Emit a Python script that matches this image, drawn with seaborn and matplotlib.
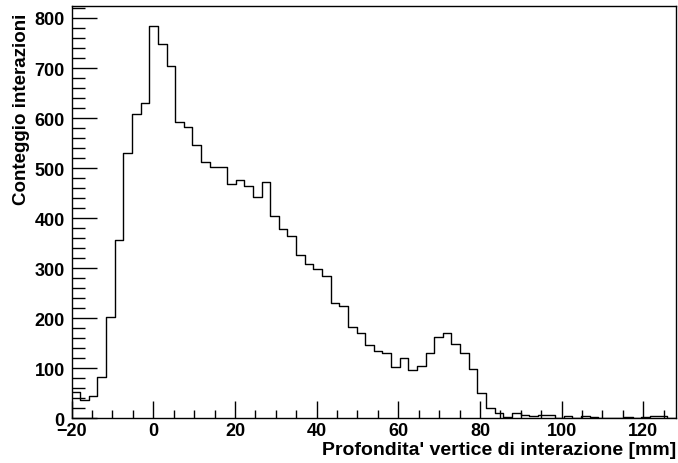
import numpy as np
import pandas as pd
import matplotlib
matplotlib.use("Agg")
import matplotlib.pyplot as plt
import seaborn as sns
from matplotlib.ticker import MultipleLocator

# Istogramma: 70 bin da -20 a 128 mm
x_min = -20
x_max = 128
n_bins = 70
conteggi = [53, 37, 44, 82, 202, 357, 531, 608, 631, 784,
            747, 704, 593, 582, 546, 513, 502, 503, 468, 477,
            464, 443, 472, 405, 378, 365, 327, 309, 299, 284,
            231, 225, 183, 171, 147, 135, 130, 102, 121, 96,
            105, 130, 163, 171, 148, 130, 98, 50, 20, 11,
            2, 10, 6, 4, 6, 6, 1, 4, 1, 5,
            3, 0, 1, 1, 2, 1, 2, 4, 4, 0]

bordi = np.linspace(x_min, x_max, n_bins + 1)
centri = 0.5 * (bordi[:-1] + bordi[1:])
df = pd.DataFrame({"profondita": centri, "conteggio": conteggi})

sns.set_style("ticks")
plt.rcParams['font.family'] = ['Liberation Sans', 'DejaVu Sans']
plt.rcParams['font.weight'] = 'bold'
plt.rcParams['text.color'] = 'black'
plt.rcParams['axes.labelcolor'] = 'black'
plt.rcParams['xtick.color'] = 'black'
plt.rcParams['ytick.color'] = 'black'

fig = plt.figure(figsize=(6.78, 4.64), dpi=100)
ax = fig.add_axes([0.1056, 0.0963, 0.8914, 0.8887])

sns.histplot(data=df, x="profondita", weights="conteggio", bins=n_bins,
             binrange=(x_min, x_max),
             element="step", fill=False, color="black", linewidth=1.0, ax=ax)

ax.set_xlim(x_min, x_max)
ax.set_ylim(0, 824)

ax.xaxis.set_major_locator(MultipleLocator(20))
ax.xaxis.set_minor_locator(MultipleLocator(5))
ax.yaxis.set_major_locator(MultipleLocator(100))
ax.yaxis.set_minor_locator(MultipleLocator(20))

ax.tick_params(axis='x', which='major', direction='in', length=12, width=1,
               labelsize=13, pad=3, top=False, colors='black')
ax.tick_params(axis='x', which='minor', direction='in', length=6, width=1, top=False,
               colors='black')
ax.tick_params(axis='y', which='major', direction='in', length=18, width=1,
               labelsize=13, pad=5, right=False, colors='black')
ax.tick_params(axis='y', which='minor', direction='in', length=9, width=1, right=False,
               colors='black')

for lab in ax.get_xticklabels() + ax.get_yticklabels():
    lab.set_fontweight('bold')

for s in ax.spines.values():
    s.set_visible(True)
    s.set_linewidth(1)
    s.set_color("black")

ax.set_xlabel("Profondita' vertice di interazione [mm]", fontsize=14, fontweight='bold',
              color='black')
ax.set_ylabel("Conteggio interazioni", fontsize=13.5, fontweight='bold', color='black')
ax.xaxis.set_label_coords(1.0, -0.056)
ax.xaxis.label.set_horizontalalignment('right')
ax.yaxis.set_label_coords(-0.068, 0.985)
ax.yaxis.label.set_horizontalalignment('right')

fig.savefig("out.png", dpi=100)
